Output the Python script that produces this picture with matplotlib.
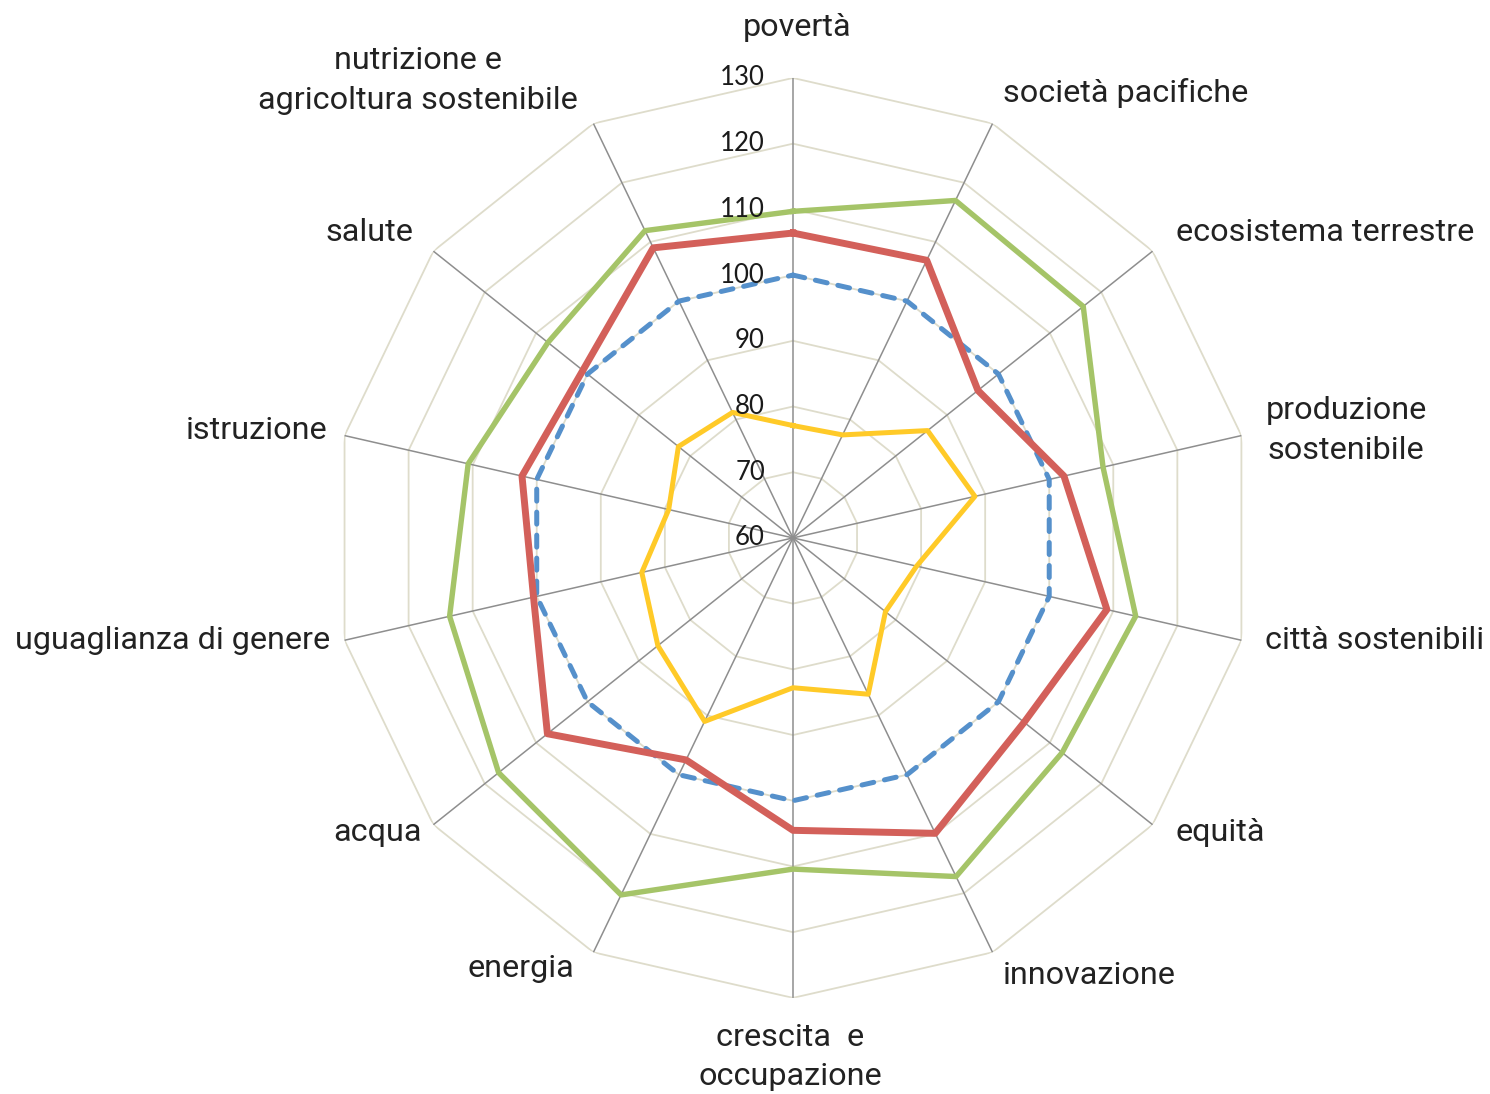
import numpy as np
import matplotlib
matplotlib.use("Agg")
import matplotlib.pyplot as plt

# categories clockwise from the top
categories = [
    "povertà", "società pacifiche", "ecosistema terrestre", "produzione\nsostenibile",
    "città sostenibili", "equità", "innovazione", "crescita  e\noccupazione",
    "energia", "acqua", "uguaglianza di genere", "istruzione", "salute",
    "nutrizione e\nagricoltura sostenibile",
]
green_vals = [109.7, 117.0, 116.5, 108.4, 113.5, 112.4, 117.2, 110.4, 120.3, 117.3, 113.6, 110.7, 107.7, 111.9]
red_vals = [106.4, 106.9, 96.0, 102.3, 109.0, 105.0, 109.9, 104.5, 97.5, 107.8, 100.5, 102.3, 100.9, 109.0]
blue_vals = [100.0] * 14
yellow_vals = [77.1, 77.4, 86.2, 88.4, 79.3, 78.0, 86.4, 82.8, 91.0, 86.3, 83.6, 79.4, 82.3, 81.2]
r_ticks = [60, 70, 80, 90, 100, 110, 120, 130]

# label offsets in pixels from the outer ring end of each spoke (dx, dy up), alignment
label_layout = [
    (4, 50, "center"), (10, 31, "left"), (23, 19, "left"), (24, 5, "left"),
    (24, 0, "left"), (23, -8, "left"), (10, -23, "left"), (-3, -59, "center"),
    (-19, -16, "right"), (-12, -8, "right"), (-14, 0, "right"), (-17, 5, "right"),
    (-20, 19, "right"), (-16, 43, "right"),
]

GRID_C = "#DEDCCB"
SPOKE_C = "#8E8E8E"

n = len(categories)
theta = np.arange(n) * 2 * np.pi / n
theta_c = np.append(theta, theta[0])


def closed(vals):
    return np.append(vals, vals[0])


fig = plt.figure(figsize=(14.9, 10.94), dpi=100)
ax = fig.add_axes([0.2235, 0.0878, 0.6174, 0.841], projection="polar")
ax.set_theta_offset(np.pi / 2)
ax.set_theta_direction(-1)
ax.set_ylim(60, 130)
ax.grid(False)
ax.spines["polar"].set_visible(False)
ax.set_xticks([])
ax.set_yticks([])

for lvl in r_ticks[1:]:
    ax.plot(theta_c, [lvl] * (n + 1), color=GRID_C, lw=1.3, zorder=1)
for t in theta:
    ax.plot([t, t], [60, 130], color=SPOKE_C, lw=1.1, zorder=2)

ax.plot(theta_c, closed(blue_vals), color="#5590CB", lw=3.6, zorder=3,
        dashes=(2.4, 2.2), dash_capstyle="round")
ax.plot(theta_c, closed(yellow_vals), color="#FFCA28", lw=3.6, zorder=4)
ax.plot(theta_c, closed(green_vals), color="#A5C468", lw=3.9, zorder=5)
ax.plot(theta_c, closed(red_vals), color="#D3605A", lw=5.0, zorder=6)

px = 0.72  # pixels -> points at dpi 100
for lvl in r_ticks:
    ax.annotate(str(lvl), xy=(0, lvl), xytext=(-28 * px, 0), textcoords="offset points",
                ha="right", va="center", fontsize=18.5, family="Lato", color="#1a1a1a",
                zorder=7)

for t, lab, (dx, dy, ha) in zip(theta, categories, label_layout):
    ax.annotate(lab, xy=(t, 130), xytext=(dx * px, dy * px), textcoords="offset points",
                ha=ha, va="center", fontsize=23.3, family="Roboto", color="#222222",
                multialignment="center", linespacing=1.45, annotation_clip=False)

fig.savefig("out.png", dpi=100, facecolor="white")
